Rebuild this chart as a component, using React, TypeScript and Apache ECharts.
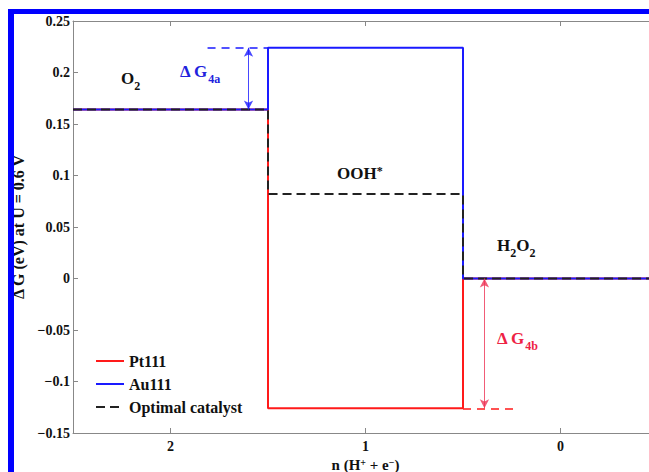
import React, { useEffect, useRef } from "react";
import * as echarts from "echarts";

// Step diagram data (x = n(H+ + e-), reversed axis)
const xSteps = [2.5, 1.5, 1.5, 0.5, 0.5, -0.5];
const pt111 = [0.164, 0.164, -0.126, -0.126, 0, 0];
const au111 = [0.164, 0.164, 0.224, 0.224, 0, 0];
const optimal = [0.164, 0.164, 0.082, 0.082, 0, 0];
const seriesNames = ["Pt111", "Au111", "Optimal catalyst"];
const xTickValues = [2, 1, 0];

// annotation helpers (values)
const dG4aX = 1.6;
const dG4aExt = [1.81, 1.5];
const dG4bX = 0.39;
const dG4bExt = [0.5, 0.22];

const FONT = "Liberation Serif";
const RED = "#ff1a1a";
const BLUE = "#1a1aff";

function pairs(ys: number[]) {
  return xSteps.map((x, i) => [x, ys[i]]);
}

export default function App() {
  const ref = useRef<HTMLDivElement>(null);
  useEffect(() => {
    if (!ref.current) return;
    const chart = echarts.init(ref.current, null, { renderer: "svg" });
    const main = (size: number, color: string) => ({
      fontFamily: FONT,
      fontWeight: "bold",
      fontSize: size,
      fill: color,
      lineHeight: 22,
      verticalAlign: "top",
    });
    const sub = (size: number, color: string) => ({
      fontFamily: FONT,
      fontWeight: "bold",
      fontSize: size,
      fill: color,
      lineHeight: 12,
      verticalAlign: "bottom",
    });
    const sup = (size: number, color: string) => ({
      fontFamily: FONT,
      fontWeight: "bold",
      fontSize: size,
      fill: color,
      lineHeight: 12,
      verticalAlign: "top",
    });
    const labelText = (x: number, y: number, text: string, color: string, mode: "sub" | "sup") => ({
      type: "text",
      x,
      y,
      z: 50,
      style: {
        text,
        rich: {
          m: main(17, color),
          s: mode === "sub" ? sub(12, color) : sup(12, color),
        },
      },
    });
    const option: any = {
      animation: false,
      grid: { left: 73, top: 21, width: 585, height: 412, containLabel: false, outerBoundsMode: "none" },
      legend: {
        data: seriesNames,
        orient: "vertical",
        left: 90,
        top: 348,
        itemWidth: 28,
        itemHeight: 14,
        itemGap: 7,
        itemStyle: { opacity: 0 },
        textStyle: {
          fontFamily: FONT,
          fontWeight: "bold",
          fontSize: 16,
          color: "#111",
        },
      },
      xAxis: [
        {
          type: "value",
          min: -0.5,
          max: 2.5,
          inverse: true,
          name: "{m|n (H}{s|+}{m| + e}{s|\u2212}{m|)}",
          nameLocation: "middle",
          nameGap: 20,
          nameTextStyle: {
            rich: {
              m: { fontFamily: FONT, fontWeight: "bold", fontSize: 15, color: "#111", lineHeight: 15, verticalAlign: "bottom" },
              s: { fontFamily: FONT, fontWeight: "bold", fontSize: 10, color: "#111", lineHeight: 15, verticalAlign: "top" },
            },
          },
          axisLine: { show: true, onZero: false, lineStyle: { color: "#888", width: 1 } },
          axisTick: { show: true, inside: true, length: 5, customValues: xTickValues, lineStyle: { color: "#888" } },
          axisLabel: {
            customValues: xTickValues,
            margin: 6,
            fontFamily: FONT,
            fontWeight: "bold",
            fontSize: 14,
            color: "#111",
          },
          splitLine: { show: false },
        },
        {
          type: "value",
          min: -0.5,
          max: 2.5,
          inverse: true,
          position: "top",
          axisLine: { show: true, onZero: false, lineStyle: { color: "#888", width: 1 } },
          axisTick: { show: true, inside: true, length: 5, customValues: xTickValues, lineStyle: { color: "#888" } },
          axisLabel: { show: false },
          splitLine: { show: false },
        },
      ],
      yAxis: {
        type: "value",
        min: -0.15,
        max: 0.25,
        interval: 0.05,
        name: "\u0394 G (eV) at U = 0.6 V",
        nameLocation: "middle",
        nameGap: 43,
        nameTextStyle: { fontFamily: FONT, fontWeight: "bold", fontSize: 16, color: "#111" },
        axisLine: { show: true, onZero: false, lineStyle: { color: "#888", width: 1 } },
        axisTick: { show: true, inside: true, length: 5, lineStyle: { color: "#888" } },
        axisLabel: {
          margin: 3,
          fontFamily: FONT,
          fontWeight: "bold",
          fontSize: 14,
          color: "#111",
          formatter: (v: number) => {
            const r = parseFloat(v.toFixed(2));
            if (r === 0) return "0";
            return (r < 0 ? "\u2212" : "") + String(Math.abs(r));
          },
        },
        splitLine: { show: false },
      },
      series: [
        {
          name: seriesNames[0],
          type: "line",
          data: pairs(pt111),
          symbol: "none",
          lineStyle: { color: RED, width: 2 },
          itemStyle: { color: RED },
          z: 2,
          markLine: {
            silent: true,
            symbol: ["none", "none"],
            label: { show: false },
            lineStyle: { color: RED, width: 1.5, type: [8, 6] },
            data: [[{ coord: [dG4bExt[0], pt111[3]] }, { coord: [dG4bExt[1], pt111[3]] }]],
          },
        },
        {
          name: seriesNames[1],
          type: "line",
          data: pairs(au111),
          symbol: "none",
          lineStyle: { color: BLUE, width: 2 },
          itemStyle: { color: BLUE },
          z: 3,
          markLine: {
            silent: true,
            symbol: ["none", "none"],
            label: { show: false },
            lineStyle: { color: BLUE, width: 1.5, type: [8, 6] },
            data: [[{ coord: [dG4aExt[0], au111[2]] }, { coord: [dG4aExt[1], au111[2]] }]],
          },
        },
        {
          name: seriesNames[2],
          type: "line",
          data: pairs(optimal),
          symbol: "none",
          lineStyle: { color: "#222", width: 2, type: [9, 5] },
          itemStyle: { color: "#222" },
          z: 4,
        },
        {
          name: "arrowA",
          type: "line",
          data: [],
          markLine: {
            silent: true,
            symbol: ["arrow", "arrow"],
            symbolSize: [7, 9],
            label: { show: false },
            lineStyle: { color: BLUE, width: 1, type: "solid", opacity: 0.8 },
            data: [[{ coord: [dG4aX, au111[2]] }, { coord: [dG4aX, au111[0]] }]],
          },
        },
        {
          name: "arrowB",
          type: "line",
          data: [],
          markLine: {
            silent: true,
            symbol: ["arrow", "arrow"],
            symbolSize: [7, 9],
            label: { show: false },
            lineStyle: { color: "#ee3355", width: 1, type: "solid", opacity: 0.8 },
            data: [[{ coord: [dG4bX, pt111[4]] }, { coord: [dG4bX, pt111[3]] }]],
          },
        },
      ],
      graphic: [
        { type: "rect", shape: { x: 8, y: 9, width: 6, height: 463 }, style: { fill: "#0000ff" }, z: 100 },
        { type: "rect", shape: { x: 8, y: 9, width: 641, height: 5 }, style: { fill: "#0000ff" }, z: 100 },
        labelText(121, 70, "{m|O}{s|2}", "#111", "sub"),
        labelText(180, 63, "{m|\u0394 G}{s|4a}", "#2222dd", "sub"),
        labelText(337, 165, "{m|OOH}{s|*}", "#111", "sup"),
        labelText(497, 237, "{m|H}{s|2}{m|O}{s|2}", "#111", "sub"),
        labelText(497, 330, "{m|\u0394 G}{s|4b}", "#ee2244", "sub"),
      ],
    };
    chart.setOption(option);
    return () => chart.dispose();
  }, []);
  return (
    <div style={{ position: "fixed", left: 0, top: 0, width: 649, height: 472, overflow: "hidden", background: "#fff" }}>
      <div ref={ref} style={{ width: 649, height: 472, overflow: "hidden" }} />
    </div>
  );
}
